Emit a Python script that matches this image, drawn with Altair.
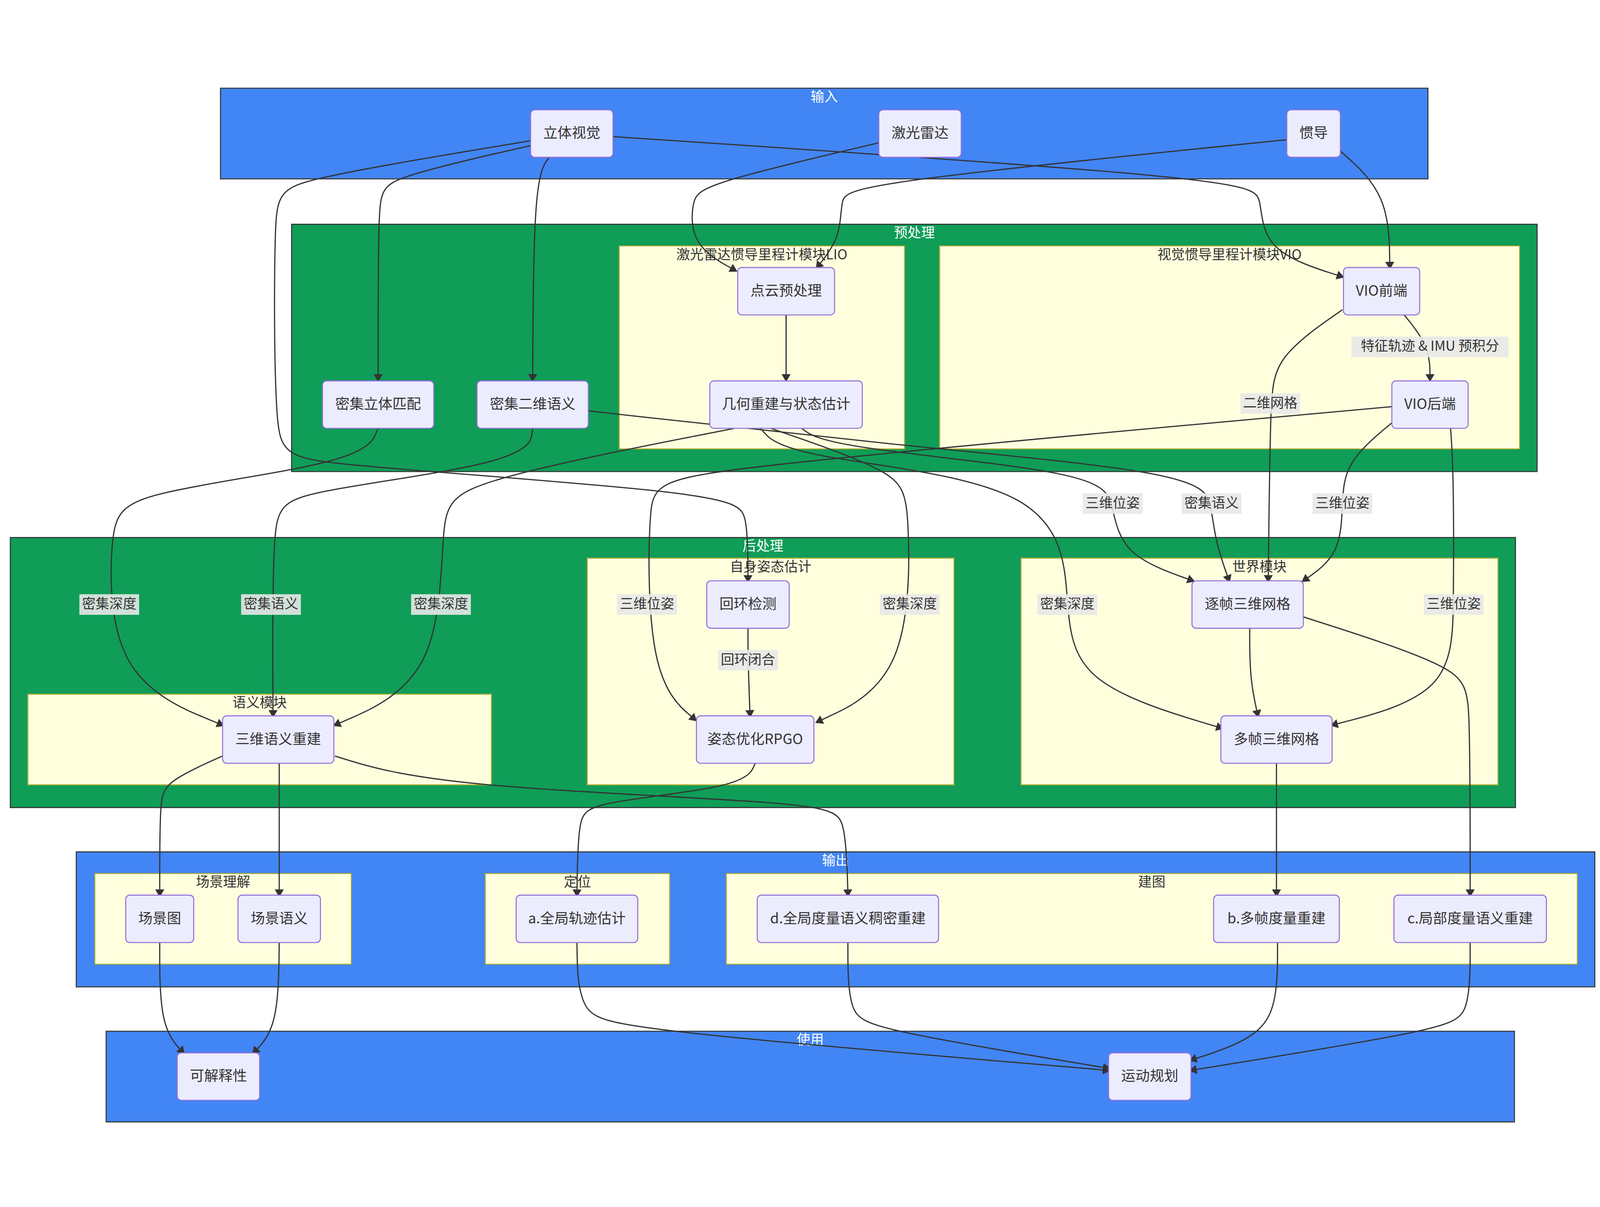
import math
import altair as alt
import pandas as pd

# diagram coordinates (reference pixels / 3.03)
XMAX, YMAX = 1547, 1014
W, H = 4688, 3074
FONT = "Noto Sans CJK SC"

# clusters: label, x1, y1, x2, y2, kind
cluster_labels = ["输入", "预处理", "激光雷达惯导里程计模块LIO", "视觉惯导里程计模块VIO", "后处理",
                  "语义模块", "自身姿态估计", "世界模块", "输出", "场景理解", "定位", "建图", "使用"]
cluster_x1 = [211, 280, 598, 909, 7, 24, 567, 988, 71, 89, 468, 702, 100]
cluster_y1 = [7, 139, 160, 160, 443, 595, 463, 463, 748, 769, 769, 769, 922]
cluster_x2 = [1383, 1489, 875, 1472, 1468, 474, 923, 1451, 1545, 338, 647, 1528, 1467]
cluster_y2 = [95, 379, 357, 357, 705, 683, 683, 683, 879, 857, 857, 857, 1010]
cluster_kind = ["blue", "green", "inner", "inner", "green", "inner", "inner", "inner",
                "blue", "inner", "inner", "inner", "blue"]

# nodes: label, center x, center y, width
node_labels = ["立体视觉", "激光雷达", "惯导", "点云预处理", "VIO前端", "密集立体匹配", "密集二维语义",
               "几何重建与状态估计", "VIO后端", "回环检测", "逐帧三维网格", "三维语义重建", "姿态优化RPGO",
               "多帧三维网格", "场景图", "场景语义", "a.全局轨迹估计", "d.全局度量语义稠密重建",
               "b.多帧度量重建", "c.局部度量语义重建", "可解释性", "运动规划"]
node_x = [552, 890, 1272, 760, 1338, 364, 514, 760, 1385, 723, 1208, 267, 730, 1236,
          152, 268, 557, 820, 1236, 1424, 209, 1113]
node_y = [51, 51, 51, 204, 204, 314, 314, 314, 314, 508, 508, 639, 639, 639,
          813, 813, 813, 813, 813, 813, 966, 966]
node_w = [80, 80, 52, 94, 74, 108, 108, 148, 74, 80, 108, 108, 114, 108,
          66, 80, 118, 176, 122, 148, 80, 80]
NODE_H = 46

# edges as polylines
edges = [
    [(515, 62), (370, 95), (364, 112), (364, 290)],
    [(530, 74), (515, 95), (514, 290)],
    [(512, 58), (270, 98), (263, 115), (263, 360), (280, 370), (708, 400), (723, 420), (723, 485)],
    [(592, 54), (1208, 95), (1222, 112), (1222, 165), (1300, 190)],
    [(850, 60), (680, 100), (668, 115), (668, 160), (711, 184)],
    [(1246, 57), (822, 100), (813, 115), (813, 152), (790, 181)],
    [(1298, 68), (1345, 110), (1346, 181)],
    [(760, 227), (760, 290)],
    [(1360, 227), (1385, 258), (1385, 290)],
    [(1300, 222), (1234, 268), (1230, 313), (1228, 485)],
    [(1348, 316), (640, 380), (626, 395), (626, 580), (672, 620)],
    [(1350, 330), (1302, 370), (1300, 410), (1298, 460), (1262, 485)],
    [(1405, 337), (1408, 380), (1408, 508), (1406, 595), (1290, 625)],
    [(568, 320), (850, 352), (1160, 380), (1173, 410), (1176, 445), (1190, 485)],
    [(775, 337), (800, 355), (1065, 380), (1077, 410), (1085, 460), (1155, 485)],
    [(735, 337), (760, 365), (1025, 390), (1033, 508), (1040, 585), (1183, 628)],
    [(745, 337), (870, 380), (880, 410), (880, 580), (790, 622)],
    [(710, 337), (440, 390), (425, 420), (425, 580), (322, 625)],
    [(364, 337), (350, 370), (120, 400), (103, 430), (104, 580), (213, 625)],
    [(514, 337), (510, 370), (275, 400), (261, 420), (262, 616)],
    [(723, 531), (723, 562), (725, 616)],
    [(1210, 531), (1210, 580), (1218, 616)],
    [(1262, 520), (1418, 570), (1424, 600), (1424, 790)],
    [(1236, 662), (1236, 790)],
    [(213, 655), (157, 680), (152, 700), (152, 790)],
    [(268, 662), (268, 790)],
    [(322, 655), (420, 685), (800, 700), (818, 715), (820, 790)],
    [(730, 662), (720, 685), (570, 700), (558, 715), (557, 790)],
    [(152, 836), (152, 918), (175, 943)],
    [(268, 836), (267, 918), (243, 943)],
    [(557, 836), (558, 905), (600, 920), (1073, 960)],
    [(820, 836), (820, 905), (845, 920), (1073, 958)],
    [(1237, 836), (1237, 910), (1200, 935), (1153, 950)],
    [(1424, 836), (1424, 905), (1400, 920), (1153, 960)],
]

# edge labels
elabel_text = ["特征轨迹 & IMU 预积分", "二维网格", "三维位姿", "三维位姿", "密集语义", "三维位姿",
               "三维位姿", "密集深度", "密集深度", "密集深度", "密集深度", "密集语义", "回环闭合"]
elabel_x = [1385, 1230, 1077, 1300, 1173, 625, 1408, 1033, 880, 425, 103, 260, 723]
elabel_y = [258, 313, 410, 410, 410, 508, 508, 508, 508, 508, 508, 508, 562]

fills = {"blue": "#4285F4", "green": "#0F9D58", "inner": "#FFFFDE"}
strokes = {"blue": "#333333", "green": "#333333", "inner": "#AAAA33"}

cl = pd.DataFrame({"label": cluster_labels, "x1": cluster_x1, "y1": cluster_y1,
                   "x2": cluster_x2, "y2": cluster_y2, "kind": cluster_kind})
cl["fill"] = cl["kind"].map(fills)
cl["stroke"] = cl["kind"].map(strokes)
cl["tcolor"] = cl["kind"].map({"blue": "white", "green": "white", "inner": "#333333"})
cl["cx"] = (cl["x1"] + cl["x2"]) / 2
cl["ty"] = cl["y1"] + 9
cl["order"] = range(len(cl))

nd = pd.DataFrame({"label": node_labels, "x": node_x, "y": node_y, "w": node_w})
nd["x1"] = nd["x"] - nd["w"] / 2
nd["x2"] = nd["x"] + nd["w"] / 2
nd["y1"] = nd["y"] - NODE_H / 2
nd["y2"] = nd["y"] + NODE_H / 2

rows, arrows = [], []
for i, pts in enumerate(edges):
    for j, (px, py) in enumerate(pts):
        rows.append({"e": i, "o": j, "x": px, "y": py})
    (ax, ay), (bx, by) = pts[-2], pts[-1]
    ang = math.degrees(math.atan2(bx - ax, -(by - ay))) % 360
    d = math.hypot(bx - ax, by - ay) or 1
    arrows.append({"x": bx - 3 * (bx - ax) / d, "y": by - 3 * (by - ay) / d, "angle": ang})
ed = pd.DataFrame(rows)
ar = pd.DataFrame(arrows)


def text_width(s):
    return sum(14 if ord(c) > 255 else 7.5 for c in s)


el = pd.DataFrame({"label": elabel_text, "x": elabel_x, "y": elabel_y})
el["tw"] = el["label"].map(text_width)
el["x1"] = el["x"] - el["tw"] / 2 - 1
el["x2"] = el["x"] + el["tw"] / 2 + 1
el["y1"] = el["y"] - 10
el["y2"] = el["y"] + 10

xs = alt.Scale(domain=[0, XMAX], nice=False, zero=False)
ys = alt.Scale(domain=[0, YMAX], nice=False, zero=False, reverse=True)
X = lambda f: alt.X(f, type="quantitative", scale=xs, axis=None)
Y = lambda f: alt.Y(f, type="quantitative", scale=ys, axis=None)

clusters = alt.Chart(cl).mark_rect(strokeWidth=3).encode(
    x=X("x1"), x2="x2", y=Y("y1"), y2="y2",
    fill=alt.Fill("fill:N", scale=None), stroke=alt.Stroke("stroke:N", scale=None),
    order="order:Q")
ctitles = alt.Chart(cl).mark_text(font=FONT, fontSize=40, baseline="middle").encode(
    x=X("cx"), y=Y("ty"), text="label:N", color=alt.Color("tcolor:N", scale=None))
lines = alt.Chart(ed).mark_line(color="#333333", strokeWidth=3.5, interpolate="basis").encode(
    x=X("x"), y=Y("y"), detail="e:N", order="o:Q")
heads = alt.Chart(ar).mark_point(shape="triangle", filled=True, color="#333333", size=700, opacity=1).encode(
    x=X("x"), y=Y("y"), angle=alt.Angle("angle:Q", scale=None))
lbg = alt.Chart(el).mark_rect(color="#E8E8E8", opacity=0.9).encode(
    x=X("x1"), x2="x2", y=Y("y1"), y2="y2")
ltxt = alt.Chart(el).mark_text(font=FONT, fontSize=40, color="#333333").encode(
    x=X("x"), y=Y("y"), text="label:N")
nodes = alt.Chart(nd).mark_rect(fill="#ECECFF", stroke="#9370DB", strokeWidth=3, cornerRadius=12).encode(
    x=X("x1"), x2="x2", y=Y("y1"), y2="y2")
ntxt = alt.Chart(nd).mark_text(font=FONT, fontSize=42, color="#333333").encode(
    x=X("x"), y=Y("y"), text="label:N")

chart = alt.layer(clusters, ctitles, lines, heads, lbg, ltxt, nodes, ntxt).properties(
    width=W, height=H, padding=0,
    autosize=alt.AutoSizeParams(type="fit", contains="padding"),
    background="white"
).configure_view(stroke=None)

chart.save("out.html", embed_options={"renderer": "svg", "actions": False})
